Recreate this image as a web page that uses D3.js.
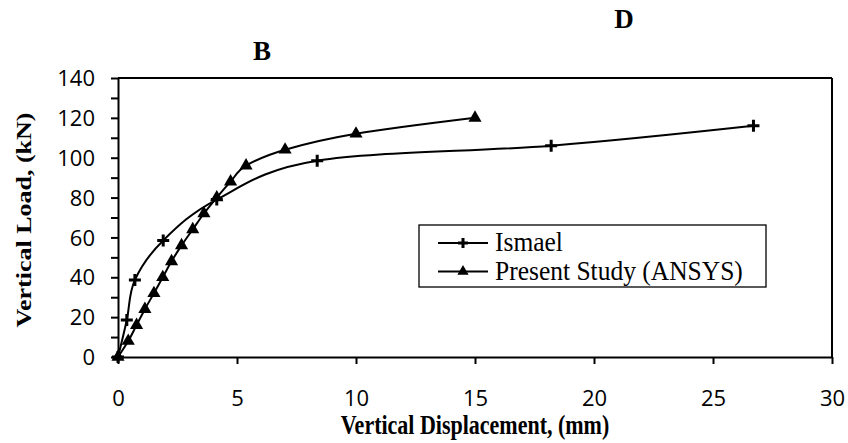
<!DOCTYPE html>
<html><head><meta charset="utf-8">
<script src="https://cdn.jsdelivr.net/npm/d3@7"></script>
<style>body{margin:0;background:#fff}svg{display:block}</style>
</head><body>
<svg id="c" width="848" height="443"></svg>
<script>
const ismaelX = [0, 0.37, 0.71, 1.9, 4.15, 8.37, 18.2, 26.7];
const ismaelY = [0, 18.6, 38.7, 58.5, 79, 98.5, 106, 116];
const ansysX = [0, 0.43, 0.78, 1.13, 1.51, 1.88, 2.25, 2.67, 3.14, 3.61, 4.15, 4.73, 5.38, 7.02, 10.0, 15.0];
const ansysY = [0, 8, 16, 24, 32, 40, 48, 56, 64, 72, 80, 88, 96, 104, 112, 120];
const xTicks = [0, 5, 10, 15, 20, 25, 30];
const yTicks = [0, 20, 40, 60, 80, 100, 120, 140];
const yMinor = [0,10,20,30,40,50,60,70,80,90,100,110,120,130,140];
const seriesNames = ["Ismael", "Present Study (ANSYS)"];

const svg = d3.select("#c");
const L = 118, R = 832, T = 78, B = 357;
const x = d3.scaleLinear().domain([0, 30]).range([L, R]);
const y = d3.scaleLinear().domain([0, 140]).range([B, T]);

svg.append("line").attr("x1", L).attr("x2", R).attr("y1", T).attr("y2", T).attr("stroke", "#000").attr("stroke-width", 2);
svg.append("line").attr("x1", R).attr("x2", R).attr("y1", T).attr("y2", B).attr("stroke", "#000").attr("stroke-width", 2);

const xAxis = svg.append("g").attr("transform", `translate(0,${B})`)
  .call(d3.axisBottom(x).tickValues(xTicks).tickSize(7).tickPadding(31).tickSizeOuter(0));
const yAxis = svg.append("g").attr("transform", `translate(${L},0)`)
  .call(d3.axisLeft(y).tickValues(yMinor).tickSize(7).tickPadding(16).tickSizeOuter(0)
    .tickFormat(d => yTicks.includes(d) ? d : ""));
[xAxis, yAxis].forEach(g => {
  g.select(".domain").attr("stroke-width", 2);
  g.selectAll(".tick line").attr("stroke-width", 2);
  g.selectAll("text").attr("font-family", "'Open Sans', sans-serif").attr("font-size", 22).attr("fill", "#000");
});
yAxis.selectAll("text").attr("dy", "0.35em");
xAxis.selectAll("text").attr("dy", "0.5em");

const line = d3.line().x(d => x(d[0])).y(d => y(d[1])).curve(d3.curveCatmullRom.alpha(0));
const ism = ismaelX.map((v, i) => [v, ismaelY[i]]);
const ans = ansysX.map((v, i) => [v, ansysY[i]]);
svg.append("path").attr("d", line(ism)).attr("fill", "none").attr("stroke", "#000").attr("stroke-width", 2);
svg.append("path").attr("d", line(ans)).attr("fill", "none").attr("stroke", "#000").attr("stroke-width", 2);

const tri = d3.symbol().type(d3.symbolTriangle).size(75);
function plus(g, cx, cy, s) {
  g.append("path").attr("d", `M${cx - s},${cy}H${cx + s}M${cx},${cy - s}V${cy + s}`)
    .attr("stroke", "#000").attr("stroke-width", 3).attr("fill", "none");
}
ans.forEach(d => svg.append("path").attr("d", tri()).attr("transform", `translate(${x(d[0])},${y(d[1])})`).attr("fill", "#000"));
ism.forEach(d => plus(svg, x(d[0]), y(d[1]), 6));

// legend
const lg = svg.append("g");
lg.append("rect").attr("x", 419).attr("y", 225).attr("width", 347).attr("height", 62)
  .attr("fill", "#fff").attr("stroke", "#000").attr("stroke-width", 1.3);
[243, 271.5].forEach((ly, i) => {
  lg.append("line").attr("x1", 438).attr("x2", 488).attr("y1", ly).attr("y2", ly).attr("stroke", "#000").attr("stroke-width", 2);
  if (i === 0) plus(lg, 463, ly, 5);
  else lg.append("path").attr("d", d3.symbol().type(d3.symbolTriangle).size(55)()).attr("transform", `translate(463,${ly})`).attr("fill", "#000");
  lg.append("text").attr("transform", `translate(495,${ly + 8}) scale(1,1.1)`).text(seriesNames[i])
    .attr("font-family", "'Liberation Serif', serif").attr("font-size", 25.5);
});

// axis titles
svg.append("text").attr("transform", `translate(${(L + R) / 2},434) scale(1,1.25)`).attr("text-anchor", "middle")
  .attr("font-family", "'Liberation Serif', serif").attr("font-weight", "bold").attr("font-size", 22)
  .text("Vertical Displacement, (mm)");
svg.append("text").attr("transform", `translate(31,220) rotate(-90) scale(1.3,1)`).attr("text-anchor", "middle")
  .attr("font-family", "'Liberation Serif', serif").attr("font-weight", "bold").attr("font-size", 20)
  .text("Vertical Load, (kN)");

// annotations
svg.append("text").attr("x", 262).attr("y", 60).attr("text-anchor", "middle")
  .attr("font-family", "'Liberation Serif', serif").attr("font-weight", "bold").attr("font-size", 27).text("B");
svg.append("text").attr("x", 624).attr("y", 28).attr("text-anchor", "middle")
  .attr("font-family", "'Liberation Serif', serif").attr("font-weight", "bold").attr("font-size", 27).text("D");
</script>
</body></html>
